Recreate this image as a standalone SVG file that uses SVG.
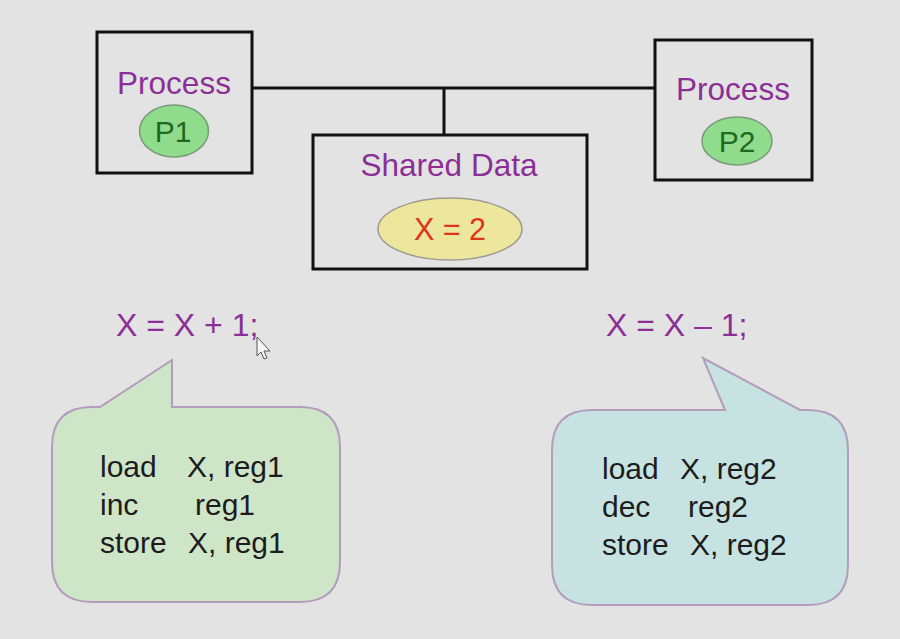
<svg xmlns="http://www.w3.org/2000/svg" width="900" height="639" viewBox="0 0 900 639">
<style>
.bg{fill:#e3e3e3}
.box{fill:none;stroke:#111;stroke-width:3}
.conn{fill:none;stroke:#111;stroke-width:3}
.title{font-family:"Liberation Sans",Arial,sans-serif;font-size:31.5px;fill:#8b2f97;text-anchor:middle}
.pell{fill:#8fdc8c;stroke:#7a9a7a;stroke-width:1.5}
.plab{font-family:"Liberation Sans",Arial,sans-serif;font-size:30px;fill:#1f6a22;text-anchor:middle}
.xell{fill:#ece79c;stroke:#a09a90;stroke-width:1.5}
.xlab{font-family:"Liberation Sans",Arial,sans-serif;font-size:30.5px;fill:#e0341c;text-anchor:middle}
.stmt{font-family:"Liberation Sans",Arial,sans-serif;font-size:32px;fill:#8b2f97}
.code{font-family:"Liberation Sans",Arial,sans-serif;font-size:30px;fill:#1c1c1c}
.bub{stroke:#b49cbc;stroke-width:2}
</style>
<rect class="bg" x="0" y="0" width="900" height="639"/>
<g id="connectors">
<path class="conn" d="M252 88 H655 M444 88 V135"/>
</g>
<g id="p1">
<rect class="box" x="97" y="32" width="155" height="141"/>
<text class="title" x="174" y="94">Process</text>
<ellipse class="pell" cx="174" cy="131" rx="34.5" ry="26"/>
<text class="plab" x="173" y="142">P1</text>
</g>
<g id="shared">
<rect class="box" x="313" y="135" width="274" height="134"/>
<text class="title" x="449" y="176">Shared Data</text>
<ellipse class="xell" cx="450" cy="229" rx="72" ry="31"/>
<text class="xlab" x="450" y="240">X = 2</text>
</g>
<g id="p2">
<rect class="box" x="655" y="40" width="157" height="140"/>
<text class="title" x="733" y="100">Process</text>
<ellipse class="pell" cx="737" cy="141" rx="35" ry="24"/>
<text class="plab" x="737" y="152">P2</text>
</g>
<g id="stmt1">
<text class="stmt" x="116" y="336">X = X + 1;</text>
</g>
<g id="stmt2">
<text class="stmt" x="606" y="336">X = X – 1;</text>
</g>
<g id="bubble1">
<path class="bub" fill="#cfe5c8" d="M92 407 L100 407 L172 360 L172 407 L300 407 Q340 407 340 447 L340 562 Q340 602 300 602 L92 602 Q52 602 52 562 L52 447 Q52 407 92 407 Z"/>
<text class="code" x="100" y="477">load</text>
<text class="code" x="187" y="477">X, reg1</text>
<text class="code" x="100" y="515">inc</text>
<text class="code" x="195" y="515">reg1</text>
<text class="code" x="100" y="553">store</text>
<text class="code" x="188" y="553">X, reg1</text>
</g>
<g id="bubble2">
<path class="bub" fill="#c6e3e2" d="M592 410 L725 410 L703 358 L800 410 L808 410 Q848 410 848 450 L848 565 Q848 605 808 605 L592 605 Q552 605 552 565 L552 450 Q552 410 592 410 Z"/>
<text class="code" x="602" y="479">load</text>
<text class="code" x="680" y="479">X, reg2</text>
<text class="code" x="602" y="517">dec</text>
<text class="code" x="688" y="517">reg2</text>
<text class="code" x="602" y="555">store</text>
<text class="code" x="690" y="555">X, reg2</text>
</g>
<g id="cursor">
<path d="M257 337 L257 356 L261 352 L264 359 L267 358 L264 351 L270 351 Z" fill="#f4f4f4" stroke="#555" stroke-width="1"/>
</g>
</svg>
